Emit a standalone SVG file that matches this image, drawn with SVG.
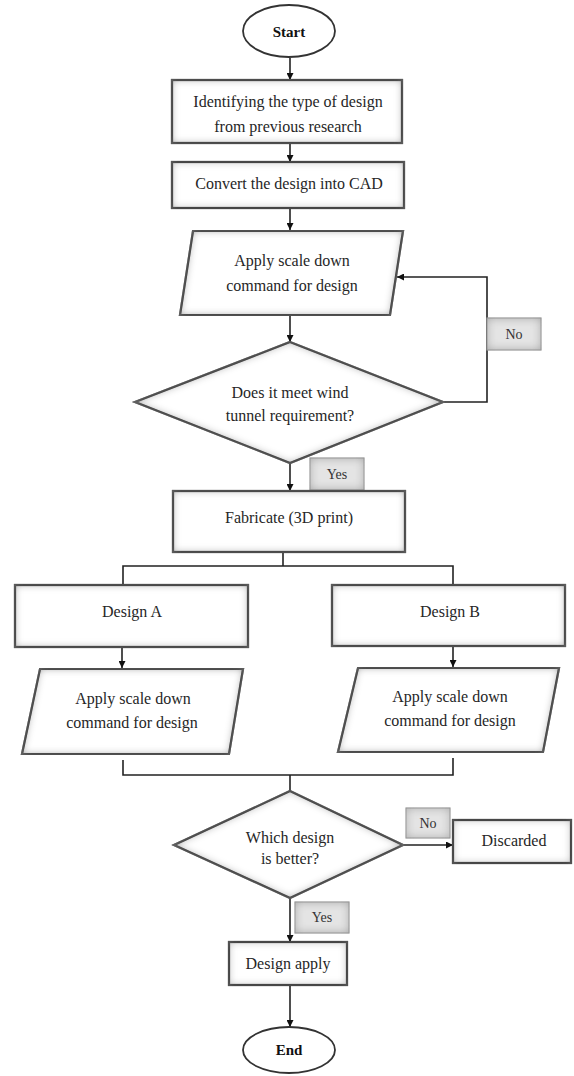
<svg xmlns="http://www.w3.org/2000/svg" width="574" height="1076" viewBox="0 0 574 1076">
  <defs>
    <filter id="inset" x="-5%" y="-10%" width="110%" height="120%">
      <feFlood flood-color="#6e6e6e" result="c"/>
      <feComposite in="c" in2="SourceAlpha" operator="out" result="outside"/>
      <feGaussianBlur in="outside" stdDeviation="4" result="blur"/>
      <feComposite in="blur" in2="SourceAlpha" operator="in" result="shadow"/>
      <feMerge><feMergeNode in="SourceGraphic"/><feMergeNode in="shadow"/></feMerge>
    </filter>
    <filter id="insetL" x="-10%" y="-20%" width="120%" height="140%">
      <feFlood flood-color="#8a8a8a" result="c"/>
      <feComposite in="c" in2="SourceAlpha" operator="out" result="outside"/>
      <feGaussianBlur in="outside" stdDeviation="5" result="blur"/>
      <feComposite in="blur" in2="SourceAlpha" operator="in" result="shadow"/>
      <feMerge><feMergeNode in="SourceGraphic"/><feMergeNode in="shadow"/></feMerge>
    </filter>
    <marker id="arrow" viewBox="0 0 10 10" refX="10" refY="5" markerWidth="7" markerHeight="7" markerUnits="userSpaceOnUse" orient="auto">
      <path d="M0,0 L10,5 L0,10 z" fill="#111"/>
    </marker>
    <style>
      .shape { fill: #ffffff; stroke: #2e2e2e; stroke-width: 2.2; filter: url(#inset); }
      .term { fill: #ffffff; stroke: #333333; stroke-width: 1.8; }
      .lbl { fill: #e4e4e4; stroke: #a0a0a0; stroke-width: 1; filter: url(#insetL); }
      .t { font-family: "Liberation Serif", "Times New Roman", serif; font-size: 16px; fill: #262626; text-anchor: middle; }
      .tb { font-family: "Liberation Serif", "Times New Roman", serif; font-size: 15px; font-weight: bold; fill: #111111; text-anchor: middle; }
      .ts { font-family: "Liberation Serif", "Times New Roman", serif; font-size: 14px; fill: #333333; text-anchor: middle; }
      .c { fill: none; stroke: #222222; stroke-width: 1.6; }
      .ca { fill: none; stroke: #222222; stroke-width: 1.6; marker-end: url(#arrow); }
    </style>
  </defs>

  <g id="connectors">
    <line class="ca" x1="290" y1="58" x2="290" y2="80"/>
    <line class="ca" x1="290" y1="143" x2="290" y2="162"/>
    <line class="ca" x1="290" y1="208" x2="290" y2="230"/>
    <line class="ca" x1="290" y1="315" x2="290" y2="342"/>
    <polyline class="ca" points="443,402 487,402 487,277 397,277"/>
    <line class="ca" x1="290" y1="463" x2="290" y2="491"/>
    <polyline class="c" points="283,552 283,566"/>
    <polyline class="c" points="123,585 123,566 453,566 453,585"/>
    <line class="ca" x1="122" y1="647" x2="122" y2="668"/>
    <line class="ca" x1="453" y1="646" x2="453" y2="667"/>
    <polyline class="c" points="123,760 123,775 453,775 453,758"/>
    <polyline class="c" points="290,775 290,791"/>
    <line class="ca" x1="403" y1="845" x2="453" y2="845"/>
    <line class="ca" x1="290" y1="898" x2="290" y2="942"/>
    <line class="ca" x1="290" y1="985" x2="290" y2="1027"/>
  </g>

  <g id="start">
    <ellipse class="term" cx="289" cy="31" rx="46" ry="26"/>
    <text class="tb" x="289" y="37">Start</text>
  </g>

  <g id="identify">
    <rect class="shape" x="172" y="80" width="230" height="63"/>
    <text class="t" x="288" y="107">Identifying the type of design</text>
    <text class="t" x="288" y="132">from previous research</text>
  </g>

  <g id="convert">
    <rect class="shape" x="172" y="162" width="232" height="46"/>
    <text class="t" x="289" y="189">Convert the design into CAD</text>
  </g>

  <g id="scale1">
    <polygon class="shape" points="193,231 403,231 390,315 180,315"/>
    <text class="t" x="292" y="266">Apply scale down</text>
    <text class="t" x="292" y="291">command for design</text>
  </g>

  <g id="decision1">
    <polygon class="shape" points="290,342 443,402 290,463 135,402"/>
    <text class="t" x="290" y="398">Does it meet wind</text>
    <text class="t" x="290" y="421">tunnel requirement?</text>
  </g>

  <g id="label-no1">
    <rect class="lbl" x="487" y="318" width="54" height="32"/>
    <text class="ts" x="514" y="339">No</text>
  </g>

  <g id="label-yes1">
    <rect class="lbl" x="310" y="458" width="54" height="32"/>
    <text class="ts" x="337" y="479">Yes</text>
  </g>

  <g id="fabricate">
    <rect class="shape" x="173" y="491" width="232" height="61"/>
    <text class="t" x="289" y="523">Fabricate (3D print)</text>
  </g>

  <g id="designA">
    <rect class="shape" x="15" y="585" width="233" height="62"/>
    <text class="t" x="132" y="617">Design A</text>
  </g>

  <g id="designB">
    <rect class="shape" x="332" y="585" width="233" height="61"/>
    <text class="t" x="450" y="617">Design B</text>
  </g>

  <g id="scaleA">
    <polygon class="shape" points="40,669 243,669 229,754 22,754"/>
    <text class="t" x="133" y="704">Apply scale down</text>
    <text class="t" x="132" y="728">command for design</text>
  </g>

  <g id="scaleB">
    <polygon class="shape" points="358,668 559,668 543,752 338,752"/>
    <text class="t" x="450" y="702">Apply scale down</text>
    <text class="t" x="450" y="726">command for design</text>
  </g>

  <g id="decision2">
    <polygon class="shape" points="290,791 403,845 290,898 174,845"/>
    <text class="t" x="290" y="843">Which design</text>
    <text class="t" x="290" y="864">is better?</text>
  </g>

  <g id="label-no2">
    <rect class="lbl" x="406" y="808" width="44" height="30"/>
    <text class="ts" x="428" y="828">No</text>
  </g>

  <g id="discarded">
    <rect class="shape" x="453" y="820" width="118" height="43"/>
    <text class="t" x="514" y="846">Discarded</text>
  </g>

  <g id="label-yes2">
    <rect class="lbl" x="295" y="902" width="54" height="31"/>
    <text class="ts" x="322" y="922">Yes</text>
  </g>

  <g id="apply">
    <rect class="shape" x="229" y="942" width="118" height="43"/>
    <text class="t" x="288" y="969">Design apply</text>
  </g>

  <g id="end">
    <ellipse class="term" cx="289" cy="1050" rx="46" ry="23"/>
    <text class="tb" x="289" y="1055">End</text>
  </g>
</svg>
